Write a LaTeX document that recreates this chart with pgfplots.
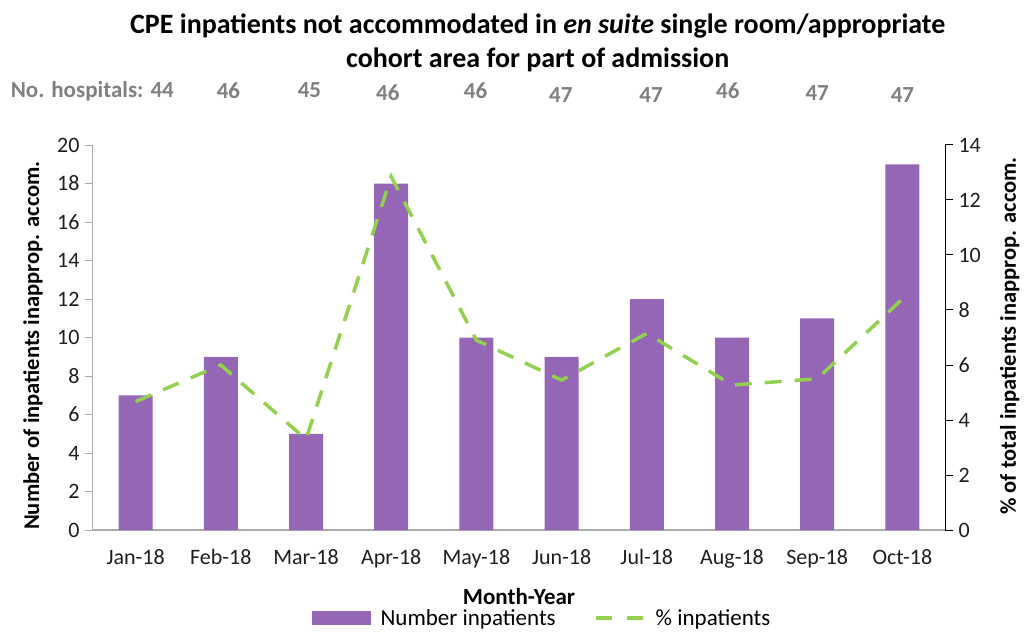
\documentclass[border=0pt]{standalone}
\usepackage{pgfplots}
\pgfplotsset{compat=1.18}
\usepackage{fontspec}
\setmainfont{Carlito}
\definecolor{barpurple}{RGB}{148,102,181}
\definecolor{linegreen}{RGB}{146,208,80}
\definecolor{hospgrey}{RGB}{128,128,128}
\definecolor{axgrey}{RGB}{170,170,170}
\definecolor{txt}{RGB}{30,30,30}
\begin{document}
\begin{tikzpicture}
\path[use as bounding box] (-93pt,-102pt) rectangle (931pt,530pt);
\begin{axis}[
  at={(0pt,0pt)}, anchor=south west,
  scale only axis, width=852pt, height=385pt,
  clip=false,
  xmin=-0.5, xmax=9.5, ymin=0, ymax=20,
  ytick={0,2,...,20},
  xtick={0,...,9},
  xticklabels={Jan-18,Feb-18,Mar-18,Apr-18,May-18,Jun-18,Jul-18,Aug-18,Sep-18,Oct-18},
  axis y line*=left, axis x line*=bottom,
  axis line style={axgrey, line width=1pt},
  x axis line style={axgrey, line width=1.2pt},
  xtick style={draw=none},
  ytick style={axgrey, line width=1pt},
  tick align=outside, major tick length=8pt,
  ticklabel style={font=\fontsize{22}{26}\selectfont, text=txt},
  /pgf/number format/assume math mode=true,
  xticklabel style={yshift=-8pt},
  yticklabel style={xshift=-2pt},
  ylabel={\textbf{Number of inpatients inapprop. accom.}},
  ylabel style={font=\fontsize{22.5}{26}\selectfont, text=black,
    at={(axis description cs:-0.0704,0.479)}, anchor=center},
  xlabel={\textbf{Month-Year}},
  xlabel style={font=\fontsize{23}{26}\selectfont, text=black,
    at={(axis description cs:0.5,-0.174)}, anchor=center},
  legend style={at={(0.527,-0.2286)}, anchor=center, draw=none, fill=none,
    legend columns=2, font=\fontsize{23}{26}\selectfont,
    /tikz/every odd column/.append style={column sep=8pt},
    /tikz/every even column/.append style={column sep=36pt}},
]
\addplot[ybar, bar width=34pt, fill=barpurple, draw=none,
  legend image code/.code={\fill[barpurple] (0pt,-7pt) rectangle (59pt,7pt);}]
  coordinates {(0,7) (1,9) (2,5) (3,18) (4,10) (5,9) (6,12) (7,10) (8,11) (9,19)};
\addlegendentry{Number inpatients}
\addlegendimage{legend image code/.code={\draw[linegreen, line width=4pt, dash pattern=on 16pt off 15pt] (0pt,0pt) -- (48pt,0pt);}}
\addlegendentry{\% inpatients}
% hospital counts
\begin{scope}[every node/.style={font=\fontsize{23}{26}\selectfont\bfseries, text=hospgrey, inner sep=0pt}]
\node[anchor=base east] at (axis cs:0.45,20) [yshift=47pt] {No. hospitals: 44};
\node[anchor=base] at (axis cs:1.09,20) [yshift=46pt] {46};
\node[anchor=base] at (axis cs:2.04,20) [yshift=47pt] {45};
\node[anchor=base] at (axis cs:2.96,20) [yshift=44pt] {46};
\node[anchor=base] at (axis cs:3.99,20) [yshift=46pt] {46};
\node[anchor=base] at (axis cs:4.99,20) [yshift=42pt] {47};
\node[anchor=base] at (axis cs:6.05,20) [yshift=42pt] {47};
\node[anchor=base] at (axis cs:6.95,20) [yshift=46pt] {46};
\node[anchor=base] at (axis cs:8.00,20) [yshift=44pt] {47};
\node[anchor=base] at (axis cs:9.00,20) [yshift=42pt] {47};
\end{scope}
\node[anchor=north, align=center, inner sep=0pt, font=\fontsize{28}{34}\selectfont\bfseries]
  at (rel axis cs:0.522,1) [yshift=131pt]
  {CPE inpatients not accommodated in \textit{en suite} single room/appropriate\\cohort area for part of admission};
\end{axis}
\begin{axis}[
  at={(0pt,0pt)}, anchor=south west,
  scale only axis, width=852pt, height=385pt,
  xmin=-0.5, xmax=9.5, ymin=0, ymax=14,
  ytick={0,2,...,14},
  axis y line*=right, axis x line=none,
  axis line style={black, line width=1pt},
  ytick style={black, line width=1pt},
  tick align=outside, major tick length=8pt,
  ticklabel style={font=\fontsize{22}{26}\selectfont, text=txt},
  /pgf/number format/assume math mode=true,
  yticklabel style={xshift=2pt},
  ylabel={\textbf{\% of total inpatients inapprop. accom.}},
  ylabel style={font=\fontsize{22.5}{26}\selectfont, text=black,
    at={(axis description cs:1.076,0.504)}, anchor=center},
]
\addplot[linegreen, line width=3.5pt, dash pattern=on 17pt off 13pt]
  coordinates {(0,4.67) (1,6.0) (2,3.3) (3,12.85) (4,6.9) (5,5.45) (6,7.15) (7,5.27) (8,5.5) (9,8.4)};
\end{axis}
\end{tikzpicture}
\end{document}
